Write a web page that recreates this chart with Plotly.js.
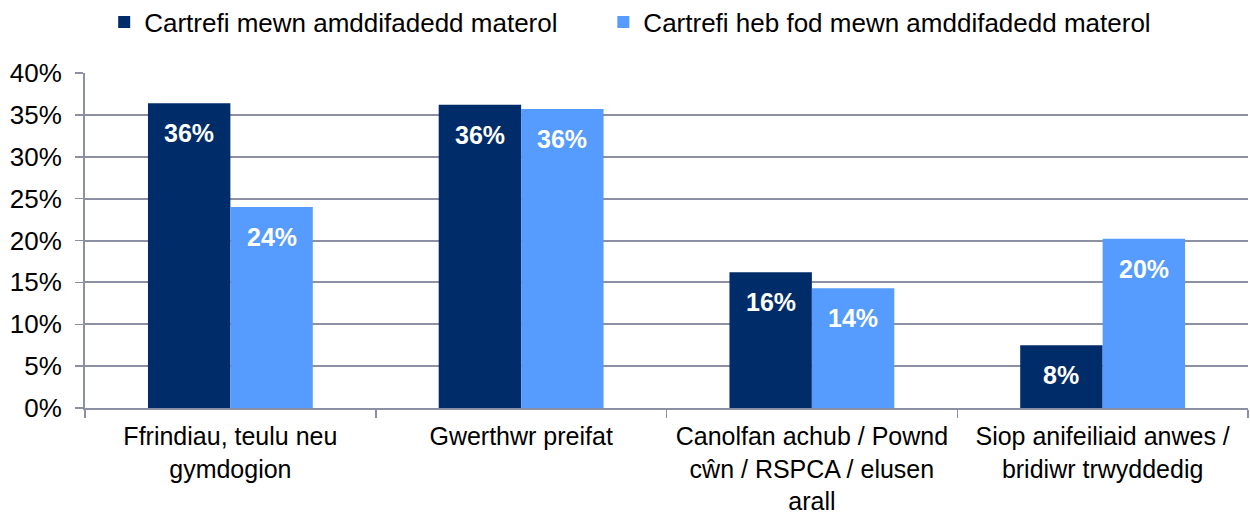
<!DOCTYPE html>
<html>
<head>
<meta charset="utf-8">
<script src="https://cdn.plot.ly/plotly-3.0.1.min.js"></script>
<style>
html,body{margin:0;padding:0;background:#fff;}
#chart{width:1250px;height:515px;}
</style>
</head>
<body>
<div id="chart"></div>
<script>
var categories = [
  "Ffrindiau, teulu neu gymdogion",
  "Gwerthwr preifat",
  "Canolfan achub / Pownd cŵn / RSPCA / elusen arall",
  "Siop anifeiliaid anwes / bridiwr trwyddedig"
];
var tickLabels = [
  "Ffrindiau, teulu neu<br>gymdogion",
  "Gwerthwr preifat",
  "Canolfan achub / Pownd<br>cŵn / RSPCA / elusen<br>arall",
  "Siop anifeiliaid anwes /<br>bridiwr trwyddedig"
];
var seriesNames = ["Cartrefi mewn amddifadedd materol", "Cartrefi heb fod mewn amddifadedd materol"];
var deprived = [36.4, 36.2, 16.2, 7.5];
var notDeprived = [24.0, 35.7, 14.3, 20.2];
var deprivedLabels = ["36%", "36%", "16%", "8%"];
var notDeprivedLabels = ["24%", "36%", "14%", "20%"];
var yTicks = [0, 5, 10, 15, 20, 25, 30, 35, 40];
var yTickText = ["0%", "5%", "10%", "15%", "20%", "25%", "30%", "35%", "40%"];

var colors = ["#002D69", "#559CFE"];
var bargap = 0.433;

var traces = [
  {type: "bar", name: seriesNames[0], x: categories, y: deprived, marker: {color: colors[0]}, hoverinfo: "none", legend: "legend"},
  {type: "bar", name: seriesNames[1], x: categories, y: notDeprived, marker: {color: colors[1]}, hoverinfo: "none", legend: "legend2"}
];

var off = (1 - bargap) / 4;
var annotations = [];
[[deprived, deprivedLabels, -off], [notDeprived, notDeprivedLabels, off]].forEach(function(s){
  s[0].forEach(function(v, i){
    annotations.push({
      x: i + s[2], y: v, xref: "x", yref: "y", text: s[1][i], showarrow: false,
      yanchor: "middle", yshift: -30,
      font: {family: "Liberation Sans, Arial, sans-serif", size: 25, color: "#ffffff", weight: "bold"}
    });
  });
});

var gridColor = "#8C90A2";
var legendBase = {
  orientation: "h", xanchor: "left", y: 1.152, yanchor: "middle",
  font: {size: 26, color: "#000000"}, itemwidth: 30, bgcolor: "rgba(0,0,0,0)"
};
var layout = {
  width: 1250, height: 515,
  margin: {l: 85, r: 2, t: 73, b: 107, autoexpand: false},
  paper_bgcolor: "#ffffff", plot_bgcolor: "#ffffff",
  font: {family: "Liberation Sans, Arial, sans-serif", size: 25, color: "#000000"},
  barmode: "group", bargap: bargap, bargroupgap: 0,
  showlegend: true,
  legend: Object.assign({}, legendBase, {x: 0.0165}),
  legend2: Object.assign({}, legendBase, {x: 0.4457}),
  xaxis: {
    type: "category",
    range: [-0.5, 3.5],
    tickmode: "array", tickvals: categories, ticktext: tickLabels,
    tickson: "boundaries", ticks: "outside", ticklen: 8, tickwidth: 1.5, tickcolor: gridColor,
    ticklabelstandoff: 5,
    showline: true, linecolor: gridColor, linewidth: 2,
    showgrid: false, zeroline: false,
    tickfont: {size: 25, color: "#000000"}, fixedrange: true
  },
  yaxis: {
    range: [0, 40],
    tickmode: "array", tickvals: yTicks, ticktext: yTickText,
    ticks: "outside", ticklen: 8, tickwidth: 1.5, tickcolor: gridColor,
    ticklabelstandoff: 8,
    showline: true, linecolor: gridColor, linewidth: 2,
    showgrid: true, gridcolor: gridColor, gridwidth: 2,
    zeroline: false,
    tickfont: {size: 26, color: "#000000"}, fixedrange: true
  },
  annotations: annotations
};

Plotly.newPlot("chart", traces, layout, {displayModeBar: false, staticPlot: true});
</script>
</body>
</html>
